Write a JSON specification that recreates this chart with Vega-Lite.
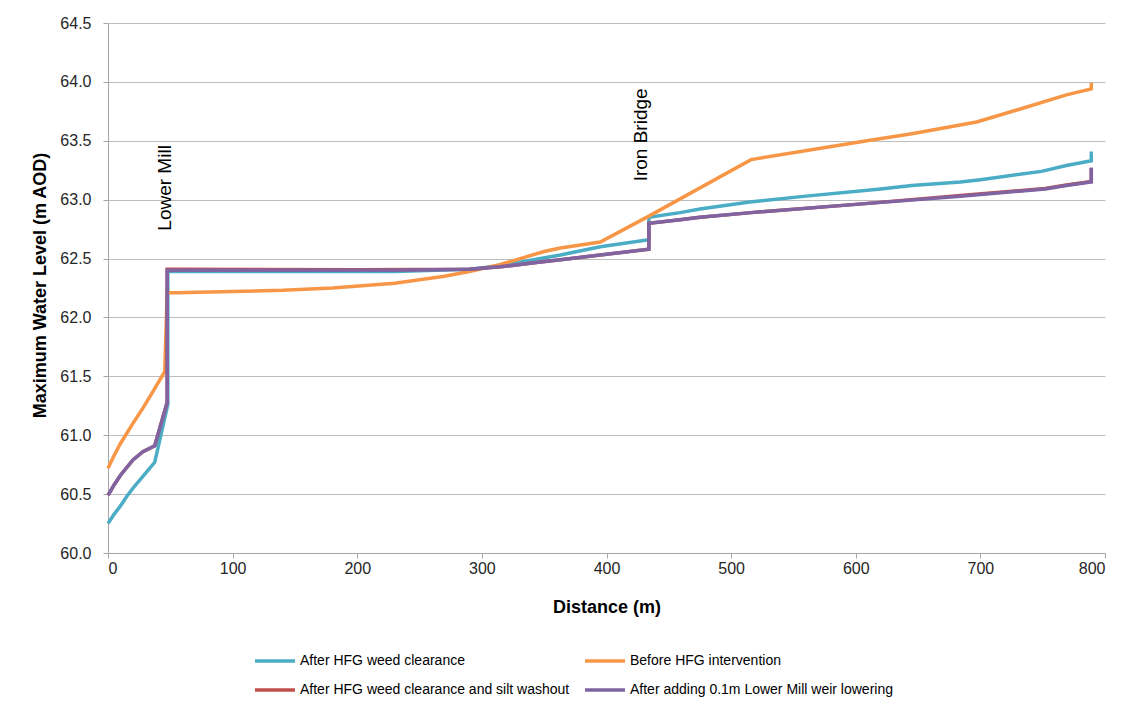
{
  "$schema": "https://vega.github.io/schema/vega-lite/v6.json",
  "autosize": {"type": "none"},
  "padding": {"left": 108, "top": 23, "right": 37, "bottom": 163},
  "width": 997,
  "height": 530,
  "background": "white",
  "config": {
    "view": {"stroke": null},
    "font": "Liberation Sans",
    "axis": {"labelFont": "Liberation Sans", "titleFont": "Liberation Sans", "labelColor": "#262626", "titleColor": "#000000", "domainColor": "#A6A6A6", "tickColor": "#A6A6A6", "gridColor": "#BDBDBD", "labelFontSize": 16, "titleFontSize": 18, "titleFontWeight": "bold", "tickSize": 5}
  },
  "datasets": {
    "lines": [
      {"series": "After HFG weed clearance", "i": 1, "d": 0, "wl": 60.25},
      {"series": "After HFG weed clearance", "i": 2, "d": 5, "wl": 60.33},
      {"series": "After HFG weed clearance", "i": 3, "d": 10, "wl": 60.40},
      {"series": "After HFG weed clearance", "i": 4, "d": 15, "wl": 60.48},
      {"series": "After HFG weed clearance", "i": 5, "d": 20, "wl": 60.55},
      {"series": "After HFG weed clearance", "i": 6, "d": 28, "wl": 60.65},
      {"series": "After HFG weed clearance", "i": 7, "d": 37.5, "wl": 60.77},
      {"series": "After HFG weed clearance", "i": 8, "d": 48, "wl": 61.26},
      {"series": "After HFG weed clearance", "i": 9, "d": 48, "wl": 62.39},
      {"series": "After HFG weed clearance", "i": 10, "d": 55, "wl": 62.39},
      {"series": "After HFG weed clearance", "i": 11, "d": 150, "wl": 62.39},
      {"series": "After HFG weed clearance", "i": 12, "d": 230, "wl": 62.39},
      {"series": "After HFG weed clearance", "i": 13, "d": 290, "wl": 62.41},
      {"series": "After HFG weed clearance", "i": 14, "d": 315, "wl": 62.44},
      {"series": "After HFG weed clearance", "i": 15, "d": 347, "wl": 62.50},
      {"series": "After HFG weed clearance", "i": 16, "d": 363, "wl": 62.53},
      {"series": "After HFG weed clearance", "i": 17, "d": 395, "wl": 62.60},
      {"series": "After HFG weed clearance", "i": 18, "d": 434, "wl": 62.66},
      {"series": "After HFG weed clearance", "i": 19, "d": 434, "wl": 62.85},
      {"series": "After HFG weed clearance", "i": 20, "d": 459, "wl": 62.89},
      {"series": "After HFG weed clearance", "i": 21, "d": 475, "wl": 62.92},
      {"series": "After HFG weed clearance", "i": 22, "d": 515, "wl": 62.98},
      {"series": "After HFG weed clearance", "i": 23, "d": 560, "wl": 63.03},
      {"series": "After HFG weed clearance", "i": 24, "d": 620, "wl": 63.09},
      {"series": "After HFG weed clearance", "i": 25, "d": 645, "wl": 63.12},
      {"series": "After HFG weed clearance", "i": 26, "d": 684, "wl": 63.15},
      {"series": "After HFG weed clearance", "i": 27, "d": 700, "wl": 63.17},
      {"series": "After HFG weed clearance", "i": 28, "d": 749, "wl": 63.24},
      {"series": "After HFG weed clearance", "i": 29, "d": 769, "wl": 63.29},
      {"series": "After HFG weed clearance", "i": 30, "d": 789, "wl": 63.33},
      {"series": "After HFG weed clearance", "i": 31, "d": 789, "wl": 63.41},

      {"series": "Before HFG intervention", "i": 1, "d": 0, "wl": 60.72},
      {"series": "Before HFG intervention", "i": 2, "d": 5, "wl": 60.83},
      {"series": "Before HFG intervention", "i": 3, "d": 10, "wl": 60.93},
      {"series": "Before HFG intervention", "i": 4, "d": 20, "wl": 61.10},
      {"series": "Before HFG intervention", "i": 5, "d": 28, "wl": 61.23},
      {"series": "Before HFG intervention", "i": 6, "d": 36, "wl": 61.37},
      {"series": "Before HFG intervention", "i": 7, "d": 45.5, "wl": 61.54},
      {"series": "Before HFG intervention", "i": 8, "d": 47.5, "wl": 62.21},
      {"series": "Before HFG intervention", "i": 9, "d": 55, "wl": 62.21},
      {"series": "Before HFG intervention", "i": 10, "d": 100, "wl": 62.22},
      {"series": "Before HFG intervention", "i": 11, "d": 140, "wl": 62.23},
      {"series": "Before HFG intervention", "i": 12, "d": 180, "wl": 62.25},
      {"series": "Before HFG intervention", "i": 13, "d": 230, "wl": 62.29},
      {"series": "Before HFG intervention", "i": 14, "d": 270, "wl": 62.35},
      {"series": "Before HFG intervention", "i": 15, "d": 290, "wl": 62.39},
      {"series": "Before HFG intervention", "i": 16, "d": 315, "wl": 62.45},
      {"series": "Before HFG intervention", "i": 17, "d": 350, "wl": 62.56},
      {"series": "Before HFG intervention", "i": 18, "d": 363, "wl": 62.59},
      {"series": "Before HFG intervention", "i": 19, "d": 395, "wl": 62.64},
      {"series": "Before HFG intervention", "i": 20, "d": 434, "wl": 62.86},
      {"series": "Before HFG intervention", "i": 21, "d": 516, "wl": 63.34},
      {"series": "Before HFG intervention", "i": 22, "d": 609, "wl": 63.50},
      {"series": "Before HFG intervention", "i": 23, "d": 645, "wl": 63.56},
      {"series": "Before HFG intervention", "i": 24, "d": 697, "wl": 63.66},
      {"series": "Before HFG intervention", "i": 25, "d": 732, "wl": 63.77},
      {"series": "Before HFG intervention", "i": 26, "d": 769, "wl": 63.89},
      {"series": "Before HFG intervention", "i": 27, "d": 789, "wl": 63.94},
      {"series": "Before HFG intervention", "i": 28, "d": 789, "wl": 63.99},

      {"series": "After HFG weed clearance and silt washout", "i": 1, "d": 0, "wl": 60.49},
      {"series": "After HFG weed clearance and silt washout", "i": 2, "d": 5, "wl": 60.58},
      {"series": "After HFG weed clearance and silt washout", "i": 3, "d": 10, "wl": 60.66},
      {"series": "After HFG weed clearance and silt washout", "i": 4, "d": 20, "wl": 60.79},
      {"series": "After HFG weed clearance and silt washout", "i": 5, "d": 28, "wl": 60.86},
      {"series": "After HFG weed clearance and silt washout", "i": 6, "d": 37.5, "wl": 60.91},
      {"series": "After HFG weed clearance and silt washout", "i": 7, "d": 47.5, "wl": 61.28},
      {"series": "After HFG weed clearance and silt washout", "i": 8, "d": 47.5, "wl": 62.41},
      {"series": "After HFG weed clearance and silt washout", "i": 9, "d": 55, "wl": 62.41},
      {"series": "After HFG weed clearance and silt washout", "i": 10, "d": 200, "wl": 62.405},
      {"series": "After HFG weed clearance and silt washout", "i": 11, "d": 290, "wl": 62.41},
      {"series": "After HFG weed clearance and silt washout", "i": 12, "d": 315, "wl": 62.43},
      {"series": "After HFG weed clearance and silt washout", "i": 13, "d": 347, "wl": 62.47},
      {"series": "After HFG weed clearance and silt washout", "i": 14, "d": 363, "wl": 62.49},
      {"series": "After HFG weed clearance and silt washout", "i": 15, "d": 395, "wl": 62.53},
      {"series": "After HFG weed clearance and silt washout", "i": 16, "d": 434, "wl": 62.58},
      {"series": "After HFG weed clearance and silt washout", "i": 17, "d": 434, "wl": 62.80},
      {"series": "After HFG weed clearance and silt washout", "i": 18, "d": 459, "wl": 62.83},
      {"series": "After HFG weed clearance and silt washout", "i": 19, "d": 475, "wl": 62.85},
      {"series": "After HFG weed clearance and silt washout", "i": 20, "d": 516, "wl": 62.89},
      {"series": "After HFG weed clearance and silt washout", "i": 21, "d": 600, "wl": 62.96},
      {"series": "After HFG weed clearance and silt washout", "i": 22, "d": 684, "wl": 63.035},
      {"series": "After HFG weed clearance and silt washout", "i": 23, "d": 752, "wl": 63.095},
      {"series": "After HFG weed clearance and silt washout", "i": 24, "d": 769, "wl": 63.125},
      {"series": "After HFG weed clearance and silt washout", "i": 25, "d": 789, "wl": 63.155},
      {"series": "After HFG weed clearance and silt washout", "i": 26, "d": 789, "wl": 63.27},

      {"series": "After adding 0.1m Lower Mill weir lowering", "i": 1, "d": 0, "wl": 60.49},
      {"series": "After adding 0.1m Lower Mill weir lowering", "i": 2, "d": 5, "wl": 60.58},
      {"series": "After adding 0.1m Lower Mill weir lowering", "i": 3, "d": 10, "wl": 60.66},
      {"series": "After adding 0.1m Lower Mill weir lowering", "i": 4, "d": 20, "wl": 60.79},
      {"series": "After adding 0.1m Lower Mill weir lowering", "i": 5, "d": 28, "wl": 60.86},
      {"series": "After adding 0.1m Lower Mill weir lowering", "i": 6, "d": 37.5, "wl": 60.91},
      {"series": "After adding 0.1m Lower Mill weir lowering", "i": 7, "d": 47.5, "wl": 61.28},
      {"series": "After adding 0.1m Lower Mill weir lowering", "i": 8, "d": 47.5, "wl": 62.40},
      {"series": "After adding 0.1m Lower Mill weir lowering", "i": 9, "d": 55, "wl": 62.40},
      {"series": "After adding 0.1m Lower Mill weir lowering", "i": 10, "d": 230, "wl": 62.40},
      {"series": "After adding 0.1m Lower Mill weir lowering", "i": 11, "d": 290, "wl": 62.41},
      {"series": "After adding 0.1m Lower Mill weir lowering", "i": 12, "d": 315, "wl": 62.43},
      {"series": "After adding 0.1m Lower Mill weir lowering", "i": 13, "d": 347, "wl": 62.47},
      {"series": "After adding 0.1m Lower Mill weir lowering", "i": 14, "d": 363, "wl": 62.49},
      {"series": "After adding 0.1m Lower Mill weir lowering", "i": 15, "d": 395, "wl": 62.53},
      {"series": "After adding 0.1m Lower Mill weir lowering", "i": 16, "d": 434, "wl": 62.58},
      {"series": "After adding 0.1m Lower Mill weir lowering", "i": 17, "d": 434, "wl": 62.80},
      {"series": "After adding 0.1m Lower Mill weir lowering", "i": 18, "d": 459, "wl": 62.83},
      {"series": "After adding 0.1m Lower Mill weir lowering", "i": 19, "d": 475, "wl": 62.85},
      {"series": "After adding 0.1m Lower Mill weir lowering", "i": 20, "d": 516, "wl": 62.89},
      {"series": "After adding 0.1m Lower Mill weir lowering", "i": 21, "d": 600, "wl": 62.96},
      {"series": "After adding 0.1m Lower Mill weir lowering", "i": 22, "d": 684, "wl": 63.03},
      {"series": "After adding 0.1m Lower Mill weir lowering", "i": 23, "d": 752, "wl": 63.09},
      {"series": "After adding 0.1m Lower Mill weir lowering", "i": 24, "d": 769, "wl": 63.12},
      {"series": "After adding 0.1m Lower Mill weir lowering", "i": 25, "d": 789, "wl": 63.15},
      {"series": "After adding 0.1m Lower Mill weir lowering", "i": 26, "d": 789, "wl": 63.27}
    ],
    "notes": [
      {"label": "Lower Mill", "d": 46, "wl": 63.10},
      {"label": "Iron Bridge", "d": 428, "wl": 63.55}
    ]
  },
  "encoding": {
    "x": {"field": "d", "type": "quantitative", "scale": {"domain": [0, 800], "nice": false},
      "axis": {"values": [0, 100, 200, 300, 400, 500, 600, 700, 800], "grid": false, "title": "Distance (m)", "labelPadding": 2, "titleY": 54, "titleBaseline": "middle"}},
    "y": {"field": "wl", "type": "quantitative", "scale": {"domain": [60, 64.5], "nice": false, "zero": false},
      "axis": {"values": [60, 60.5, 61, 61.5, 62, 62.5, 63, 63.5, 64, 64.5], "format": ".1f", "grid": true, "title": "Maximum Water Level (m AOD)", "labelPadding": 12, "titleX": -68, "titleY": 262, "titleAngle": 270, "titleAlign": "center", "titleBaseline": "middle"}}
  },
  "layer": [
    {
      "data": {"name": "lines"},
      "transform": [{"filter": "datum.series === 'After HFG weed clearance'"}],
      "mark": {"type": "line", "strokeWidth": 3.5, "interpolate": "linear"},
      "encoding": {
        "order": {"field": "i", "type": "quantitative"},
        "color": {"field": "series", "type": "nominal",
          "scale": {"domain": ["After HFG weed clearance", "Before HFG intervention", "After HFG weed clearance and silt washout", "After adding 0.1m Lower Mill weir lowering"], "range": ["#4BACC6", "#F79646", "#C0504D", "#8064A2"]},
          "legend": {"title": null, "orient": "none", "legendX": 145, "legendY": 616, "columns": 2, "direction": "horizontal", "symbolType": "stroke", "symbolSize": 1600, "symbolStrokeWidth": 3.5, "labelFontSize": 14, "labelFont": "Liberation Sans", "labelColor": "#000000", "labelOffset": 3, "columnPadding": 8, "rowPadding": -10, "labelLimit": 400, "padding": 0}}
      }
    },
    {
      "data": {"name": "lines"},
      "transform": [{"filter": "datum.series === 'Before HFG intervention'"}],
      "mark": {"type": "line", "strokeWidth": 3.5, "interpolate": "linear"},
      "encoding": {
        "order": {"field": "i", "type": "quantitative"},
        "color": {"field": "series", "type": "nominal"}
      }
    },
    {
      "data": {"name": "lines"},
      "transform": [{"filter": "datum.series === 'After HFG weed clearance and silt washout'"}],
      "mark": {"type": "line", "strokeWidth": 3.5, "interpolate": "linear"},
      "encoding": {
        "order": {"field": "i", "type": "quantitative"},
        "color": {"field": "series", "type": "nominal"}
      }
    },
    {
      "data": {"name": "lines"},
      "transform": [{"filter": "datum.series === 'After adding 0.1m Lower Mill weir lowering'"}],
      "mark": {"type": "line", "strokeWidth": 3.5, "interpolate": "linear"},
      "encoding": {
        "order": {"field": "i", "type": "quantitative"},
        "color": {"field": "series", "type": "nominal"}
      }
    },
    {
      "data": {"name": "notes"},
      "mark": {"type": "text", "angle": 270, "align": "center", "baseline": "middle", "fontSize": 19, "font": "Liberation Sans", "color": "#000000"},
      "encoding": {"text": {"field": "label", "type": "nominal"}}
    }
  ]
}
